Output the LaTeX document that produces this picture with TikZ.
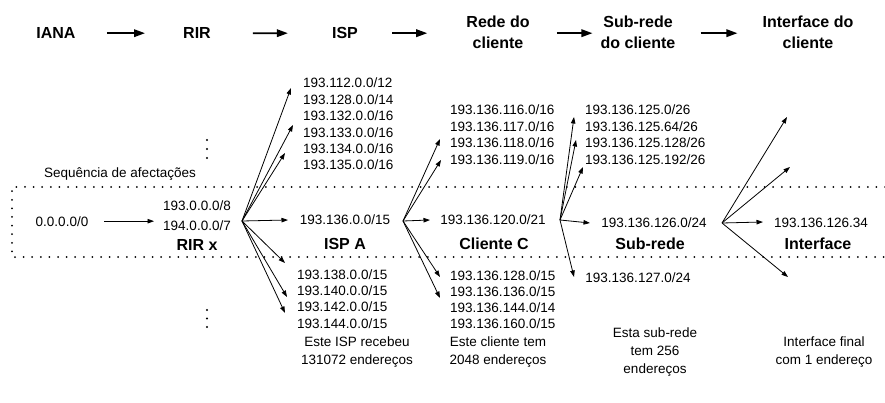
\documentclass[tikz,border=0pt]{standalone}
\usepackage{fontspec}
\setmainfont{Liberation Sans}
\usetikzlibrary{arrows.meta}
\begin{document}
\begin{tikzpicture}[x=1pt,y=-1pt,
 hdr/.style={font=\fontsize{16}{21}\selectfont\bfseries, align=center, inner sep=0pt, anchor=north},
 lbl/.style={font=\fontsize{16}{19}\selectfont\bfseries, inner sep=0pt, anchor=base},
 txt/.style={font=\fontsize{13.5}{16.4}\selectfont, inner sep=0pt, anchor=base},
 addr/.style={font=\fontsize{13.5}{16.4}\selectfont, inner sep=0pt, anchor=base west},
 note/.style={font=\fontsize{13.5}{17.6}\selectfont, inner sep=0pt, align=center, anchor=north},
 harrow/.style={line width=1.8pt, -{Triangle[length=11pt,width=7.5pt]}},
 farrow/.style={line width=0.8pt, -{Triangle[length=6.5pt,width=4.5pt]}},
 dotline/.style={line width=2pt, dash pattern=on 0pt off 8.6pt, line cap=round},
 vdot/.style={fill=black, draw=none}
]
\useasboundingbox (0,0) rectangle (885,403);

% header
\node[hdr, anchor=base] (iana) at (56,38.7) {IANA};
\node[hdr, anchor=base] (rir) at (197,38.7) {RIR};
\node[hdr, anchor=base] (isp) at (345,38.7) {ISP};
\node[hdr] (rede) at (498,16) {Rede do\\cliente};
\node[hdr] (sub) at (638,16) {Sub-rede\\do cliente};
\node[hdr] (intf) at (808,16) {Interface do\\cliente};
\draw[harrow, shorten <=31pt, shorten >=38pt] (iana.east) -- (rir.west);
\draw[harrow, shorten <=42pt, shorten >=44pt] (rir.east) -- (isp.west);
\draw[harrow, shorten <=34pt, shorten >=39pt] (isp.east) -- (isp.east -| rede.west);
\draw[harrow, shorten <=27pt, shorten >=8pt] (rede.east |- isp.east) -- (sub.west |- isp.east);
\draw[harrow, shorten <=25pt, shorten >=25pt] (sub.east |- isp.east) -- (intf.west |- isp.east);

% dotted band
\coordinate (bandTR) at (885,187);
\coordinate (bandTL) at (12,187);
\coordinate (bandBL) at (12,257);
\coordinate (bandBR) at (885,257);
\draw[dotline] (bandTR) -- (bandTL) -- (bandBL) -- (bandBR);

\node[txt] (seq) at (120,178) {Sequência de afectações};

% vertical ellipses
\fill[vdot] (207,140) circle (1.2pt);
\fill[vdot] (207,149) circle (1.2pt);
\fill[vdot] (207,158) circle (1.2pt);
\fill[vdot] (207,310) circle (1.2pt);
\fill[vdot] (207,318.5) circle (1.2pt);
\fill[vdot] (207,327) circle (1.2pt);

% main row
\node[txt] (zero) at (62,226) {0.0.0.0/0};
\node[txt] (r193) at (197,211) {193.0.0.0/8};
\node[txt] (r194) at (197,231) {194.0.0.0/7};
\node[lbl] (rirx) at (197,251) {RIR x};
\draw[farrow, shorten <=16pt, shorten >=9pt] (zero.east) -- (zero.east -| r194.west);

\node[txt] (ispa) at (345,225) {193.136.0.0/15};
\node[lbl] (ispalbl) at (345,249) {ISP A};
\node[txt] (cli) at (493,225) {193.136.120.0/21};
\node[lbl] (clilbl) at (494,249) {Cliente C};
\node[txt] (subn) at (654,227) {193.136.126.0/24};
\node[lbl] (sublbl) at (650,249) {Sub-rede};
\node[txt] (sub127) at (638,282) {193.136.127.0/24};
\node[txt] (ifc) at (821,227) {193.136.126.34};
\node[lbl] (ifclbl) at (818,249) {Interface};

% lists
\foreach \t [count=\i] in {193.112.0.0/12,193.128.0.0/14,193.132.0.0/16,193.133.0.0/16,193.134.0.0/16,193.135.0.0/16}
  \node[addr] (ispu\i) at (303,{88+16.4*(\i-1)}) {\t};
\foreach \t [count=\i] in {193.138.0.0/15,193.140.0.0/15,193.142.0.0/15,193.144.0.0/15}
  \node[addr] (ispd\i) at (297,{279+16.4*(\i-1)}) {\t};
\foreach \t [count=\i] in {193.136.116.0/16,193.136.117.0/16,193.136.118.0/16,193.136.119.0/16}
  \node[addr] (cliu\i) at (450,{115+16.4*(\i-1)}) {\t};
\foreach \t [count=\i] in {193.136.128.0/15,193.136.136.0/15,193.136.144.0/14,193.136.160.0/15}
  \node[addr] (clid\i) at (450,{280+16.2*(\i-1)}) {\t};
\foreach \t [count=\i] in {193.136.125.0/26,193.136.125.64/26,193.136.125.128/26,193.136.125.192/26}
  \node[addr] (subu\i) at (585,{115+16.4*(\i-1)}) {\t};

% fan from RIR x
\coordinate (oa) at (242,221);
\coordinate (ta1) at (291,88);
\coordinate (ta2) at (293,125);
\coordinate (ta3) at (285,153);
\coordinate (ta4) at (288,220);
\coordinate (ta5) at (285,263);
\coordinate (ta6) at (287,297);
\coordinate (ta7) at (285,313);
\draw[farrow] (oa) -- (ta1);
\draw[farrow] (oa) -- (ta2);
\draw[farrow] (oa) -- (ta3);
\draw[farrow] (oa) -- (ta4);
\draw[farrow] (oa) -- (ta5);
\draw[farrow] (oa) -- (ta6);
\draw[farrow] (oa) -- (ta7);

% fan from ISP A
\coordinate (ob) at (403,221);
\coordinate (tb1) at (440,139);
\coordinate (tb2) at (441,160);
\coordinate (tb3) at (430,220);
\coordinate (tb4) at (440,277);
\coordinate (tb5) at (440,298);
\draw[farrow] (ob) -- (tb1);
\draw[farrow] (ob) -- (tb2);
\draw[farrow] (ob) -- (tb3);
\draw[farrow] (ob) -- (tb4);
\draw[farrow] (ob) -- (tb5);

% fan from Cliente C
\coordinate (oc) at (560,220);
\coordinate (tc1) at (574,117);
\coordinate (tc2) at (576,140);
\coordinate (tc3) at (583,167);
\coordinate (tc4) at (590,223);
\coordinate (tc5) at (574,277);
\draw[farrow] (oc) -- (tc1);
\draw[farrow] (oc) -- (tc2);
\draw[farrow] (oc) -- (tc3);
\draw[farrow] (oc) -- (tc4);
\draw[farrow] (oc) -- (tc5);

% fan from Sub-rede
\coordinate (od) at (722,223);
\coordinate (td1) at (787,117);
\coordinate (td2) at (790,167);
\coordinate (td3) at (763,222);
\coordinate (td4) at (788,277);
\draw[farrow] (od) -- (td1);
\draw[farrow] (od) -- (td2);
\draw[farrow] (od) -- (td3);
\draw[farrow] (od) -- (td4);

% notes
\node[note] (n1) at (357,337) {Este ISP recebeu\\131072 endereços};
\node[note] (n2) at (498,337) {Este cliente tem\\2048 endereços};
\node[note] (n3) at (655,328) {Esta sub-rede\\tem 256\\endereços};
\node[note] (n4) at (824,337) {Interface final\\com 1 endereço};
\end{tikzpicture}
\end{document}
